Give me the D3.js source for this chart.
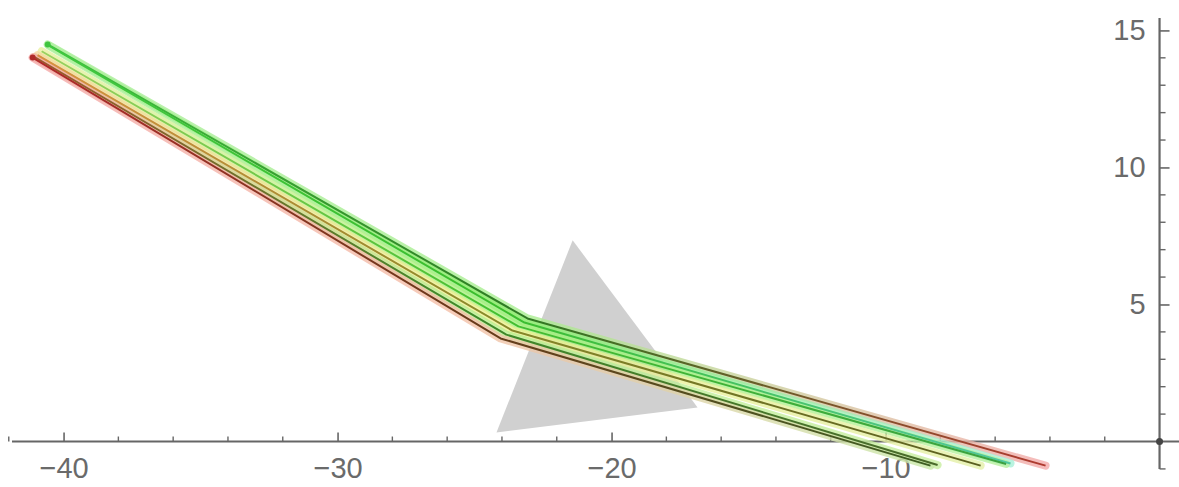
<!DOCTYPE html>
<html><head><meta charset="utf-8">
<script src="https://cdn.jsdelivr.net/npm/d3@7"></script>
<style>html,body{margin:0;padding:0;background:#fff;}svg{display:block;}</style>
</head><body>
<script>
// ---- data ----
const xDomain = [-42.32, 0.71];
const yDomain = [-1.66, 16.11];
const xMajorTicks = [-40, -30, -20, -10];
const xMinorTicks = [-42,-38,-36,-34,-32,-28,-26,-24,-22,-18,-16,-14,-12,-8,-6,-4,-2];
const yMajorTicks = [5, 10, 15];
const yMinorTicks = [-1,1,2,3,4,6,7,8,9,11,12,13,14];
const triangle = [[-24.2, 0.33], [-21.42, 7.34], [-16.86, 1.24]];
const lineNames = ["a", "b", "c", "d", "e", "f"];
const lineA = [[-40.58, 14.49], [-23.07, 4.49], [-4.16, -0.88]];
const lineB = [[-40.55, 14.45], [-23.18, 4.34], [-5.44, -0.80]];
const lineC = [[-40.80, 14.24], [-23.40, 4.20], [-5.60, -0.82]];
const lineD = [[-40.95, 14.10], [-23.62, 4.05], [-6.53, -0.88]];
const lineE = [[-41.06, 14.03], [-23.84, 3.90], [-8.10, -0.86]];
const lineF = [[-41.13, 14.01], [-24.05, 3.76], [-8.36, -0.88]];
const coreColors = [
  ["#3fc43f", "#2e7a22", "#b03a30"],
  ["#40c840", "#3bbd2c", "#50c8a0"],
  ["#9ad060", "#44c030", "#3aa040"],
  ["#d89040", "#8a8a2a", "#5a5e20"],
  ["#9a5a2a", "#3f8a2a", "#4a6a2a"],
  ["#b02a2a", "#6a3a1a", "#3f5f24"]
];
const haloColors = [
  ["#a8ee98", "#a8ee90", "#f4aaaa"],
  ["#b0f0a0", "#90ec70", "#a8f0d8"],
  ["#e8f0a0", "#a6f080", "#b8f0a0"],
  ["#f4d8a0", "#eef090", "#e4f0a8"],
  ["#f0c0a0", "#b8ee90", "#c8eea0"],
  ["#f4a8a8", "#f4c0a8", "#c8e8a8"]
];

const W = 1179, H = 487;
const x = d3.scaleLinear().domain(xDomain).range([0, W]);
const y = d3.scaleLinear().domain(yDomain).range([H, 0]);

const svg = d3.select("body").append("svg").attr("width", W).attr("height", H);
const defs = svg.append("defs");

// triangle
svg.append("path")
  .attr("d", d3.line().x(d => x(d[0])).y(d => y(d[1])).curve(d3.curveLinearClosed)(triangle))
  .attr("fill", "#d0d0d0");

// axes
const axisColor = "#666";
const gx = svg.append("g").attr("transform", `translate(0,${y(0)})`);
gx.call(d3.axisBottom(x).tickValues(xMajorTicks).tickSize(-9).tickPadding(14)
  .tickFormat(d => "\u2212" + Math.abs(d)));
gx.select(".domain").attr("d", `M${12},0H${W}`).attr("stroke", axisColor).attr("stroke-width", 2.2);
gx.selectAll(".tick line").attr("stroke", axisColor).attr("stroke-width", 1.6);
gx.selectAll(".tick text").attr("fill", "#6a6a6a").attr("font-size", 29)
  .attr("font-family", "Liberation Sans, Arial, sans-serif").attr("dy", "0.71em").attr("y", 16);
gx.selectAll(".minor").data(xMinorTicks).enter().append("line")
  .attr("x1", d => x(d)).attr("x2", d => x(d)).attr("y1", 0).attr("y2", -5)
  .attr("stroke", axisColor).attr("stroke-width", 1.4);

const gy = svg.append("g").attr("transform", `translate(${x(0)},0)`);
gy.call(d3.axisLeft(y).tickValues(yMajorTicks).tickSize(-10).tickPadding(14)
  .tickFormat(d3.format("d")));
gy.select(".domain").attr("d", `M0,${y(15.45)}V${y(-1.0)}`).attr("stroke", axisColor).attr("stroke-width", 2.2);
gy.selectAll(".tick line").attr("stroke", axisColor).attr("stroke-width", 1.6);
gy.selectAll(".tick text").attr("fill", "#6a6a6a").attr("font-size", 29)
  .attr("font-family", "Liberation Sans, Arial, sans-serif");
gy.selectAll(".minor").data(yMinorTicks).enter().append("line")
  .attr("x1", 0).attr("x2", 6).attr("y1", d => y(d)).attr("y2", d => y(d))
  .attr("stroke", axisColor).attr("stroke-width", 1.4);
svg.append("circle").attr("cx", x(0)).attr("cy", y(0)).attr("r", 3.5).attr("fill", "#444");

// lines
const lines = [lineA, lineB, lineC, lineD, lineE, lineF];
const lineGen = d3.line().x(d => x(d[0])).y(d => y(d[1]));
function addGrad(id, pts, cols) {
  const g = defs.append("linearGradient").attr("id", id)
    .attr("gradientUnits", "userSpaceOnUse")
    .attr("x1", x(pts[0][0])).attr("y1", y(pts[0][1]))
    .attr("x2", x(pts[2][0])).attr("y2", y(pts[2][1]));
  cols.forEach((c, k) => g.append("stop").attr("offset", k / (cols.length - 1)).attr("stop-color", c));
}
lines.forEach((pts, i) => {
  addGrad("core" + lineNames[i], pts, coreColors[i]);
  addGrad("halo" + lineNames[i], pts, haloColors[i]);
});
lines.forEach((pts, i) => {
  svg.append("path").attr("d", lineGen(pts)).attr("fill", "none")
    .attr("stroke", `url(#halo${lineNames[i]})`).attr("stroke-width", 8)
    .attr("stroke-opacity", 0.8).attr("stroke-linejoin", "round").attr("stroke-linecap", "round");
});
lines.forEach((pts, i) => {
  svg.append("path").attr("d", lineGen(pts)).attr("fill", "none")
    .attr("stroke", `url(#core${lineNames[i]})`).attr("stroke-width", 2)
    .attr("stroke-linejoin", "round");
});
[lineA, lineF].forEach((pts, k) => {
  svg.append("circle").attr("cx", x(pts[0][0])).attr("cy", y(pts[0][1])).attr("r", 3)
    .attr("fill", coreColors[k === 0 ? 0 : 5][0]);
});
</script>
</body></html>
